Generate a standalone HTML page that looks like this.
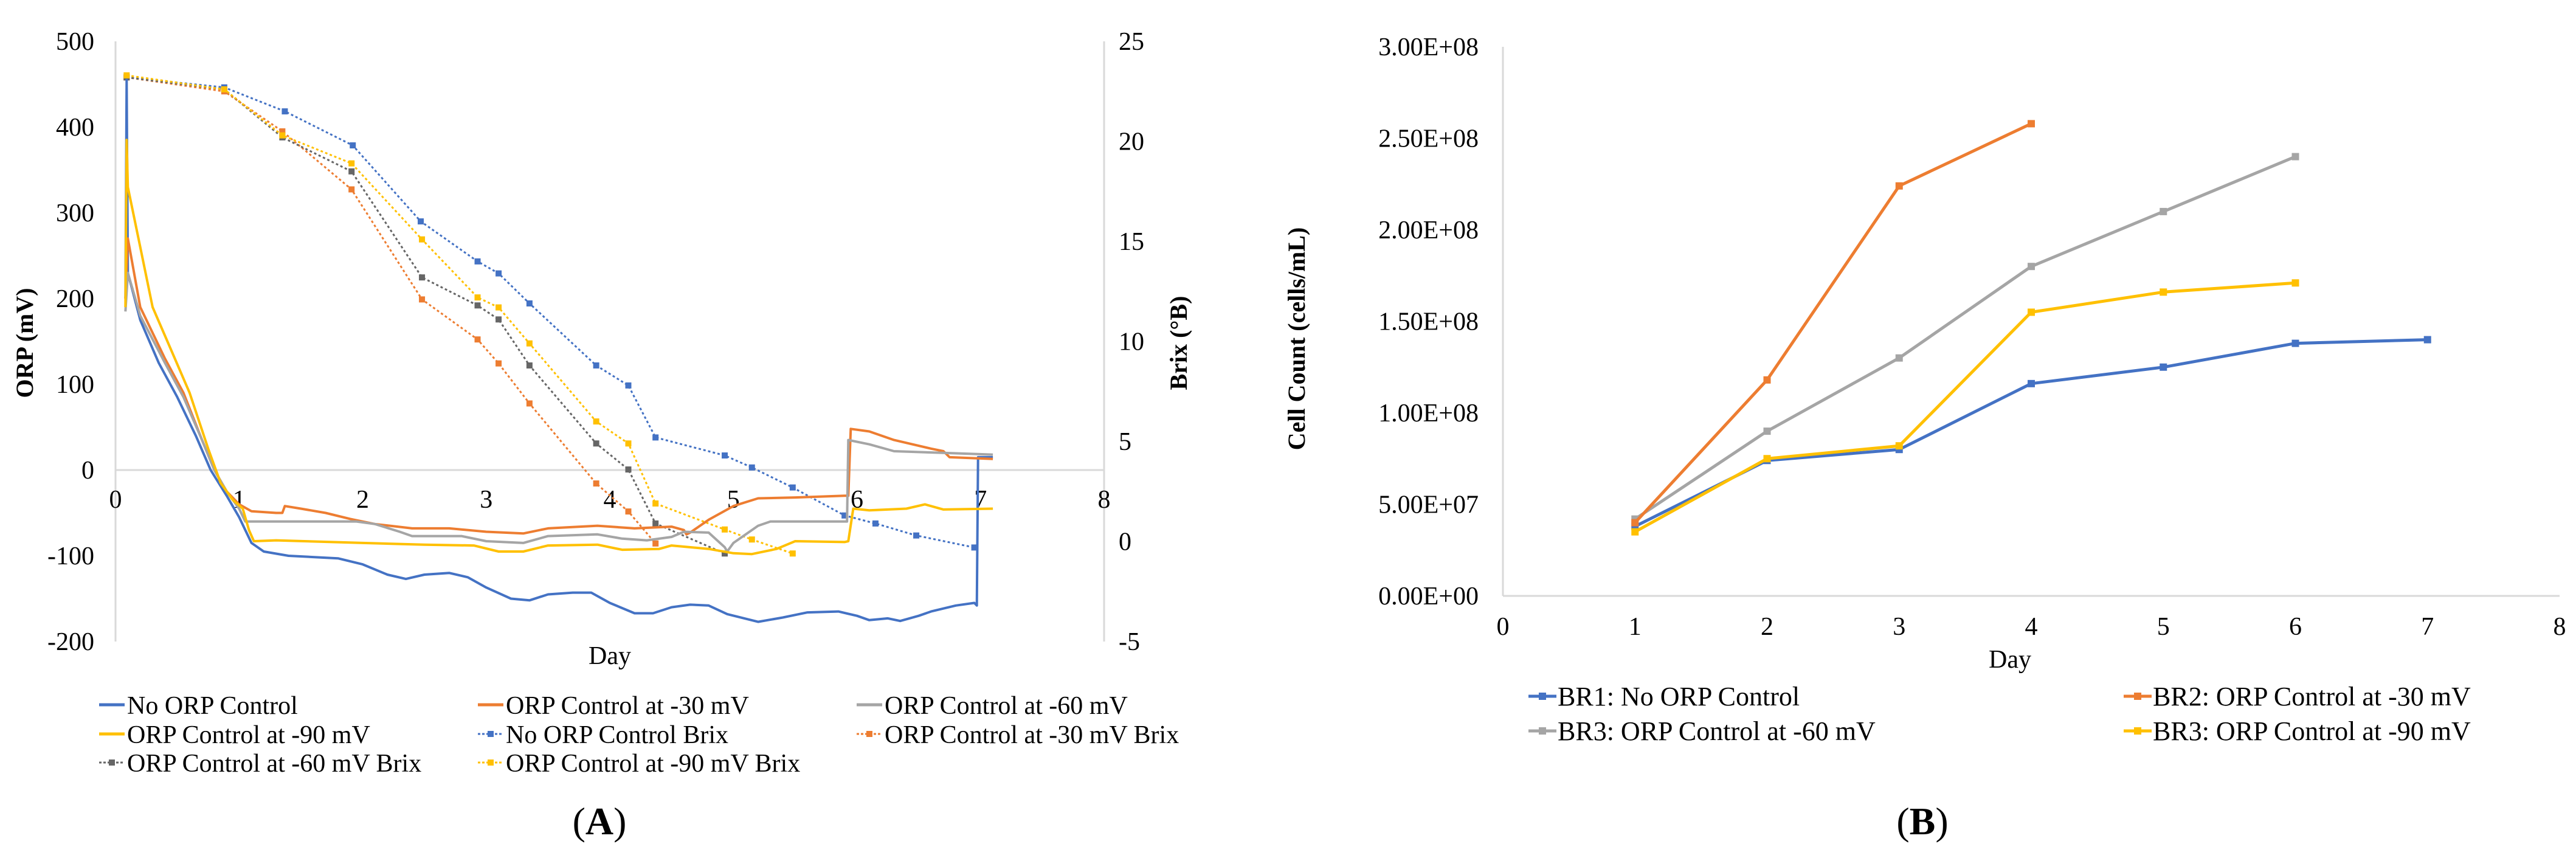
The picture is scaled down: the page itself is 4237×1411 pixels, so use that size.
<!DOCTYPE html>
<html><head><meta charset="utf-8"><style>
html,body{margin:0;padding:0;background:#fff;}
svg{display:block;font-family:"Liberation Serif",serif;}
text{font-family:"Liberation Serif",serif;}
</style></head><body>
<svg id="s" width="4237" height="1411" viewBox="0 0 4237 1411" xmlns="http://www.w3.org/2000/svg" font-family="Liberation Serif, serif">
<g id="gA"></g>
<g id="gB"></g>
</svg>
<script>
// ---------- Chart A data ----------
const dayTicks = [0,1,2,3,4,5,6,7,8];
const orpTicks = [500,400,300,200,100,0,-100,-200];
const brixTicks = [25,20,15,10,5,0,-5];
const orpNoDays = [0.08,0.09,0.1,0.2,0.35,0.5,0.65,0.77,0.9,1.0,1.1,1.2,1.4,1.8,2.0,2.2,2.35,2.5,2.7,2.85,3.0,3.2,3.35,3.5,3.7,3.85,4.0,4.2,4.35,4.5,4.65,4.8,4.95,5.2,5.4,5.6,5.85,6.0,6.1,6.25,6.35,6.5,6.6,6.8,6.95,6.97,6.98,7.1];
const orpNoVals = [200,455,230,175,125,85,40,0,-30,-55,-85,-95,-100,-103,-110,-122,-127,-122,-120,-125,-137,-150,-152,-145,-143,-143,-155,-167,-167,-160,-157,-158,-168,-177,-172,-166,-165,-170,-175,-173,-176,-170,-165,-158,-155,-158,15,15];
const orp30Days = [0.08,0.1,0.2,0.4,0.55,0.7,0.8,0.9,1.0,1.1,1.3,1.35,1.37,1.5,1.7,1.9,2.1,2.4,2.7,3.0,3.3,3.5,3.9,4.2,4.5,4.6,4.62,4.65,4.8,5.0,5.2,5.5,5.9,5.93,5.95,6.1,6.3,6.6,6.7,6.75,7.1];
const orp30Vals = [200,270,190,130,90,35,0,-25,-40,-48,-50,-50,-42,-45,-50,-57,-63,-68,-68,-72,-74,-68,-65,-68,-66,-70,-75,-73,-58,-42,-33,-32,-30,-30,48,45,35,25,22,15,13];
const orp60Days = [0.08,0.1,0.2,0.4,0.55,0.7,0.8,0.9,1.0,1.05,1.2,1.95,2.1,2.3,2.4,2.8,3.0,3.3,3.5,3.9,4.1,4.3,4.5,4.6,4.8,4.93,4.95,5.0,5.2,5.3,5.9,5.92,5.93,6.1,6.3,6.7,7.1];
const orp60Vals = [185,230,180,125,85,35,0,-25,-45,-60,-60,-60,-63,-72,-77,-77,-83,-85,-77,-75,-80,-82,-78,-72,-73,-90,-95,-85,-65,-60,-60,-60,35,30,22,20,18];
const orp90Days = [0.08,0.09,0.1,0.2,0.3,0.45,0.6,0.75,0.85,0.95,1.03,1.08,1.12,1.3,2.0,2.5,2.9,3.1,3.3,3.5,3.9,4.1,4.4,4.5,4.8,5.0,5.15,5.35,5.5,5.9,5.93,5.97,6.1,6.4,6.55,6.7,7.1];
const orp90Vals = [190,385,330,260,190,140,90,25,-15,-35,-45,-70,-83,-82,-85,-87,-88,-95,-95,-88,-87,-93,-92,-88,-92,-97,-98,-92,-83,-84,-83,-45,-47,-45,-40,-46,-45];
const brixNoDays = [0.09,0.88,1.37,1.92,2.47,2.93,3.1,3.35,3.89,4.15,4.37,4.93,5.15,5.48,5.9,6.15,6.48,6.95];
const brixNoVals = [23.2,22.7,21.5,19.8,16.0,14.0,13.4,11.9,8.8,7.8,5.2,4.3,3.7,2.7,1.3,0.9,0.3,-0.3];
const brix30Days = [0.09,0.88,1.35,1.91,2.48,2.93,3.1,3.35,3.89,4.15,4.37];
const brix30Vals = [23.2,22.5,20.5,17.6,12.1,10.1,8.9,6.9,2.9,1.5,-0.1];
const brix60Days = [0.09,0.88,1.35,1.91,2.48,2.93,3.1,3.35,3.89,4.15,4.37,4.93];
const brix60Vals = [23.2,22.6,20.2,18.5,13.2,11.8,11.1,8.8,4.9,3.6,0.9,-0.6];
const brix90Days = [0.09,0.88,1.35,1.91,2.48,2.93,3.1,3.35,3.89,4.15,4.37,4.93,5.15,5.48];
const brix90Vals = [23.3,22.6,20.3,18.9,15.1,12.2,11.7,9.9,6.0,4.9,1.9,0.6,0.1,-0.6];
// ---------- Chart B data ----------
const cellTicks = [0,5e7,1e8,1.5e8,2e8,2.5e8,3e8];
const cellTickLabels = ["0.00E+00","5.00E+07","1.00E+08","1.50E+08","2.00E+08","2.50E+08","3.00E+08"];
const br1Days = [1,2,3,4,5,6,7];
const br1Vals = [3.8e7,7.4e7,8.0e7,1.16e8,1.25e8,1.38e8,1.40e8];
const br2Days = [1,2,3,4];
const br2Vals = [4.0e7,1.18e8,2.24e8,2.58e8];
const br3Days = [1,2,3,4,5,6];
const br3Vals = [4.2e7,9.0e7,1.30e8,1.80e8,2.10e8,2.40e8];
const br4Days = [1,2,3,4,5,6];
const br4Vals = [3.5e7,7.5e7,8.2e7,1.55e8,1.66e8,1.71e8];

const NS="http://www.w3.org/2000/svg";
const BLUE="#4472C4",ORANGE="#ED7D31",GRAY="#A5A5A5",YELLOW="#FFC000";
function mk(parent,tag,attrs,text){const e=document.createElementNS(NS,tag);for(const k in attrs)e.setAttribute(k,attrs[k]);if(tag==='text')e.setAttribute('font-family','Liberation Serif, serif');if(text!==undefined)e.textContent=text;parent.appendChild(e);return e;}

// ---------- Chart A ----------
const gA=document.getElementById('gA');
const ax=d=>190+d*203.25;
const ay=v=>773-v*1.41;
const by=b=>68+(25-b)*32.9;
let e;
e=mk(gA,'line',{x1:190,y1:68,x2:190,y2:1055,stroke:'#d9d9d9','stroke-width':3});

e=mk(gA,'line',{x1:1816,y1:68,x2:1816,y2:1055,stroke:'#d9d9d9','stroke-width':3});

e=mk(gA,'line',{x1:190,y1:ay(0),x2:1816,y2:ay(0),stroke:'#d9d9d9','stroke-width':3});

orpTicks.forEach(v=>{e=mk(gA,'text',{x:155,y:ay(v)+14,'text-anchor':'end','font-size':42},String(v));
});
brixTicks.forEach(v=>{e=mk(gA,'text',{x:1840,y:by(v)+14,'text-anchor':'start','font-size':42},String(v));
});
dayTicks.forEach(d=>{e=mk(gA,'text',{x:ax(d),y:ay(0)+62,'text-anchor':'middle','font-size':42},String(d));
});
e=mk(gA,'text',{x:0,y:0,'text-anchor':'middle','font-size':40,'font-weight':'bold',transform:'translate(54,564) rotate(-90)'},'ORP (mV)');

e=mk(gA,'text',{x:0,y:0,'text-anchor':'middle','font-size':40,'font-weight':'bold',transform:'translate(1952,564) rotate(-90)'},'Brix (°B)');

e=mk(gA,'text',{x:1003,y:1092,'text-anchor':'middle','font-size':42},'Day');


function lineA(days,vals,yf,color,dotted,name){
  const pts=days.map((d,i)=>ax(d).toFixed(1)+','+yf(vals[i]).toFixed(1)).join(' ');
  const p=mk(gA,'polyline',{points:pts,fill:'none',stroke:color,'stroke-width':dotted?3:4,'stroke-dasharray':dotted?'4 4':'none','stroke-linejoin':'round'});
  
  
  if(dotted){days.forEach((d,i)=>{const r=mk(gA,'rect',{x:ax(d)-5,y:yf(vals[i])-5,width:10,height:10,fill:color});
    
    });}
}
lineA(brixNoDays,brixNoVals,by,BLUE,true,'no-orp-brix-line');
lineA(brix30Days,brix30Vals,by,ORANGE,true,'orp-30-brix-line');
lineA(brix60Days,brix60Vals,by,'#666',true,'orp-60-brix-line');
lineA(brix90Days,brix90Vals,by,YELLOW,true,'orp-90-brix-line');
lineA(orpNoDays,orpNoVals,ay,BLUE,false,'no-orp-line');
lineA(orp30Days,orp30Vals,ay,ORANGE,false,'orp-30-line');
lineA(orp60Days,orp60Vals,ay,GRAY,false,'orp-60-line');
lineA(orp90Days,orp90Vals,ay,YELLOW,false,'orp-90-line');

const legA=[["No ORP Control",BLUE,false,163,1159],["ORP Control at -30 mV",ORANGE,false,786,1159],["ORP Control at -60 mV",GRAY,false,1409,1159],
["ORP Control at -90 mV",YELLOW,false,163,1207],["No ORP Control Brix",BLUE,true,786,1207],["ORP Control at -30 mV Brix",ORANGE,true,1409,1207],
["ORP Control at -60 mV Brix","#666",true,163,1254],["ORP Control at -90 mV Brix",YELLOW,true,786,1254]];
legA.forEach(L=>{
  const g=mk(gA,'g',{});
  
  
  mk(g,'line',{x1:L[3],y1:L[4],x2:L[3]+42,y2:L[4],stroke:L[1],'stroke-width':L[2]?3:5,'stroke-dasharray':L[2]?'4 3':'none'});
  if(L[2])mk(g,'rect',{x:L[3]+16,y:L[4]-5,width:10,height:10,fill:L[1]});
  mk(g,'text',{x:L[3]+46,y:L[4]+15,'font-size':42},L[0]);
});
e=mk(gA,'text',{x:986,y:1372,'text-anchor':'middle','font-size':64});
mk(e,'tspan',{},'(');mk(e,'tspan',{'font-weight':'bold'},'A');mk(e,'tspan',{},')');


// ---------- Chart B ----------
const gB=document.getElementById('gB');
const bx=d=>2472+d*217.25;
const byy=v=>980-v/3e8*903;
e=mk(gB,'line',{x1:2472,y1:77,x2:2472,y2:980,stroke:'#d9d9d9','stroke-width':3});

e=mk(gB,'line',{x1:2472,y1:980,x2:4210,y2:980,stroke:'#d9d9d9','stroke-width':3});

cellTicks.forEach((v,i)=>{e=mk(gB,'text',{x:2432,y:byy(v)+14,'text-anchor':'end','font-size':42},cellTickLabels[i]);
});
dayTicks.forEach(d=>{e=mk(gB,'text',{x:bx(d),y:1044,'text-anchor':'middle','font-size':42},String(d));
});
e=mk(gB,'text',{x:0,y:0,'text-anchor':'middle','font-size':40,'font-weight':'bold',transform:'translate(2146,557) rotate(-90)'},'Cell Count (cells/mL)');

e=mk(gB,'text',{x:3306,y:1098,'text-anchor':'middle','font-size':42},'Day');

function lineB(days,vals,color,name){
  const pts=days.map((d,i)=>bx(d).toFixed(1)+','+byy(vals[i]).toFixed(1)).join(' ');
  const p=mk(gB,'polyline',{points:pts,fill:'none',stroke:color,'stroke-width':5,'stroke-linejoin':'round'});
  
  
  days.forEach((d,i)=>{const r=mk(gB,'rect',{x:bx(d)-6,y:byy(vals[i])-6,width:12,height:12,fill:color});
    
    });
}
lineB(br3Days,br3Vals,GRAY,'br3-60-line');
lineB(br1Days,br1Vals,BLUE,'br1-line');
lineB(br4Days,br4Vals,YELLOW,'br3-90-line');
lineB(br2Days,br2Vals,ORANGE,'br2-line');
const legB=[["BR1: No ORP Control",BLUE,2514,1145],["BR2: ORP Control at -30 mV",ORANGE,3493,1145],
["BR3: ORP Control at -60 mV",GRAY,2514,1202],["BR3: ORP Control at -90 mV",YELLOW,3493,1202]];
legB.forEach(L=>{
  const g=mk(gB,'g',{});
  
  
  mk(g,'line',{x1:L[2],y1:L[3],x2:L[2]+46,y2:L[3],stroke:L[1],'stroke-width':5});
  mk(g,'rect',{x:L[2]+17,y:L[3]-6,width:12,height:12,fill:L[1]});
  mk(g,'text',{x:L[2]+48,y:L[3]+15,'font-size':44},L[0]);
});
e=mk(gB,'text',{x:3162,y:1372,'text-anchor':'middle','font-size':64});
mk(e,'tspan',{},'(');mk(e,'tspan',{'font-weight':'bold'},'B');mk(e,'tspan',{},')');

</script>
</body></html>
